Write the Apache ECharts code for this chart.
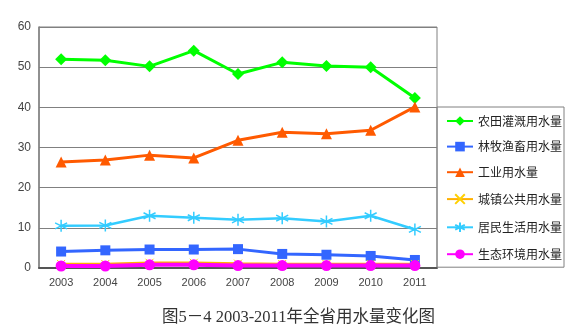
<!DOCTYPE html>
<html>
<head>
<meta charset="utf-8">
<script src="https://cdn.jsdelivr.net/npm/echarts@6/dist/echarts.min.js"></script>
<style>
html,body{margin:0;padding:0;background:#fff;}
#chart{width:579px;height:328px;}
</style>
</head>
<body>
<div id="chart"></div>
<script>
// 2003-2011 provincial water use by sector (亿m³)
var years = ['2003','2004','2005','2006','2007','2008','2009','2010','2011'];
var farmIrrigation = [52.0, 51.7, 50.2, 54.1, 48.3, 51.2, 50.3, 50.0, 42.3];
var forestryLivestock = [4.1, 4.4, 4.6, 4.6, 4.7, 3.5, 3.3, 3.0, 2.0];
var industry = [26.4, 26.9, 28.1, 27.4, 31.8, 33.8, 33.4, 34.3, 40.1];
var urbanPublic = [1.0, 1.0, 1.3, 1.3, 1.1, 1.0, 1.0, 1.0, 1.0];
var residential = [10.5, 10.6, 13.0, 12.5, 12.0, 12.4, 11.6, 13.0, 9.6];
var ecology = [0.5, 0.5, 0.8, 0.8, 0.6, 0.6, 0.6, 0.6, 0.6];
var yTicks = [0, 10, 20, 30, 40, 50, 60];

var seriesNames = ['农田灌溉用水量','林牧渔畜用水量','工业用水量','城镇公共用水量','居民生活用水量','生态环境用水量'];

var asterisk = 'path://M5,0L5,10M0.7,2.5L9.3,7.5M0.7,7.5L9.3,2.5';
var cross = 'path://M0,0L10,10M10,0L0,10';

function lineSeries(name, data, color, symbol, size, width, extra) {
  var s = {
    name: name,
    type: 'line',
    data: data,
    symbol: symbol,
    symbolSize: size,
    showAllSymbol: true,
    lineStyle: { color: color, width: width },
    itemStyle: { color: color },
    emphasis: { disabled: true },
    animation: false
  };
  if (extra) { for (var k in extra) s[k] = extra[k]; }
  return s;
}

var chart = echarts.init(document.getElementById('chart'), null, { renderer: 'canvas' });
chart.setOption({
  backgroundColor: '#ffffff',
  animation: false,
  title: {
    text: '图5－4 2003-2011年全省用水量变化图',
    left: 157,
    top: 304,
    textStyle: { fontFamily: '"Liberation Serif","Noto Sans CJK SC",serif', fontSize: 16.5, fontWeight: 'normal', color: '#333333' }
  },
  grid: {
    left: 39, right: 142, top: 27, bottom: 60,
    show: true, borderColor: '#808080', borderWidth: 1
  },
  legend: {
    orient: 'vertical',
    left: 437, top: 107,
    padding: [8, 2, 7, 9],
    itemWidth: 26, itemHeight: 12, itemGap: 13.6,
    borderColor: '#808080', borderWidth: 1,
    textStyle: { fontFamily: '"Noto Sans CJK SC",sans-serif', fontSize: 12, lineHeight: 12, color: '#222222' },
    data: seriesNames
  },
  xAxis: {
    type: 'category',
    data: years,
    boundaryGap: true,
    axisLine: { lineStyle: { color: '#555555', width: 2 } },
    axisTick: { show: false },
    axisLabel: { color: '#444444', fontSize: 11, fontFamily: 'Liberation Sans, Arial, sans-serif', margin: 9 }
  },
  yAxis: {
    type: 'value',
    min: yTicks[0], max: yTicks[yTicks.length - 1], interval: 10,
    axisLine: { show: true, lineStyle: { color: '#808080', width: 1.5 } },
    axisTick: { show: false },
    axisLabel: { color: '#444444', fontSize: 12, fontFamily: 'Liberation Sans, Arial, sans-serif', margin: 8 },
    splitLine: { lineStyle: { color: '#808080', width: 1 } }
  },
  series: [
    lineSeries(seriesNames[0], farmIrrigation, '#00ff00', 'diamond', 12, 3),
    lineSeries(seriesNames[1], forestryLivestock, '#3366ff', 'rect', 10, 3),
    lineSeries(seriesNames[2], industry, '#ff5a00', 'triangle', 11, 3),
    lineSeries(seriesNames[3], urbanPublic, '#ffb000', cross, 8, 2.5,
      { itemStyle: { color: 'none', borderColor: '#ffd000', borderWidth: 1 } }),
    lineSeries(seriesNames[4], residential, '#33ccff', asterisk, 12, 2.5,
      { itemStyle: { color: 'none', borderColor: '#33ccff', borderWidth: 1.5 } }),
    lineSeries(seriesNames[5], ecology, '#ff00ff', 'circle', 11, 4)
  ]
});
</script>
</body>
</html>
